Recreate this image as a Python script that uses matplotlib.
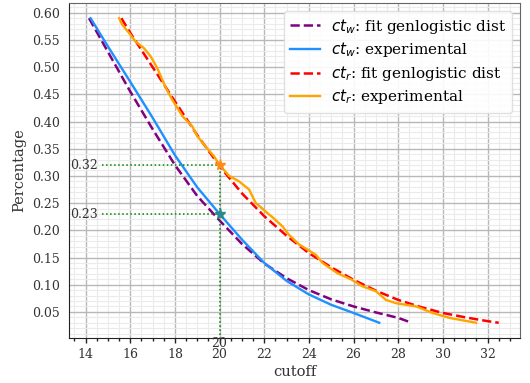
import numpy as np
import matplotlib
matplotlib.use("Agg")
import matplotlib.pyplot as plt
from matplotlib.ticker import AutoMinorLocator

plt.rcParams['font.family'] = 'DejaVu Serif'

# ct_w experimental
w_exp_x = [14.22, 15, 16, 17, 18, 19, 20, 21, 22, 23, 24, 25, 26, 27.15]
w_exp_y = [0.59, 0.538, 0.473, 0.407, 0.338, 0.279, 0.23, 0.183, 0.14, 0.107, 0.082, 0.063, 0.048, 0.03]

# ct_w fit genlogistic
w_fit_x = [14.15, 15, 16, 17, 18, 19, 20, 21, 22, 23, 24, 25, 26, 27, 28, 28.6]
w_fit_y = [0.59, 0.528, 0.455, 0.386, 0.32, 0.263, 0.218, 0.175, 0.139, 0.112, 0.09, 0.073, 0.06, 0.049, 0.039, 0.03]

# ct_r fit genlogistic
r_fit_x = [15.6, 16, 17, 18, 19, 20, 21, 22, 23, 24, 25, 26, 27, 28, 29, 30, 31, 32, 32.5]
r_fit_y = [0.59, 0.563, 0.5, 0.437, 0.375, 0.318, 0.268, 0.226, 0.19, 0.158, 0.132, 0.109, 0.089, 0.072, 0.059, 0.048, 0.04, 0.033, 0.03]

# ct_r experimental
r_exp_x = [15.5, 15.64, 15.94, 16.24, 16.61, 16.91, 17.21, 17.59, 17.88, 18.11, 18.33, 18.78, 19.0,
           19.38, 19.75, 20.0, 20.43, 20.87, 21.32, 21.62, 21.77, 22.22, 22.37, 22.82, 23.1, 23.56,
           24.31, 24.61, 25.28, 25.88, 26.4, 27.0, 27.45, 27.9, 28.8, 29.54, 30.29, 31.49]
r_exp_y = [0.59, 0.578, 0.563, 0.547, 0.535, 0.52, 0.498, 0.462, 0.44, 0.425, 0.41, 0.391, 0.373,
           0.354, 0.336, 0.32, 0.30, 0.29, 0.275, 0.25, 0.245, 0.229, 0.224, 0.207, 0.192, 0.174,
           0.155, 0.14, 0.121, 0.11, 0.097, 0.088, 0.072, 0.066, 0.06, 0.048, 0.039, 0.03]

cut = 20
p_r = 0.32
p_w = 0.23

fig = plt.figure(figsize=(5.3, 3.83), dpi=100)
ax = fig.add_axes([0.130, 0.1175, 0.851, 0.8747])

ax.plot(w_fit_x, w_fit_y, c='purple', ls='--', lw=1.8, label=r'$ct_w$: fit genlogistic dist')
ax.plot(w_exp_x, w_exp_y, c='#1e90ff', lw=1.7, label=r'$ct_w$: experimental')
ax.plot(r_fit_x, r_fit_y, c='red', ls='--', lw=1.8, label=r'$ct_r$: fit genlogistic dist')
ax.plot(r_exp_x, r_exp_y, c='orange', lw=1.7, label=r'$ct_r$: experimental')

ax.plot([14.75, cut], [p_r, p_r], c='green', ls=':', lw=1.1)
ax.plot([14.75, cut], [p_w, p_w], c='green', ls=':', lw=1.1)
ax.plot([cut, cut], [0, p_r], c='green', ls=':', lw=1.1)
ax.plot(cut, p_r, marker='*', c='#ff8c1a', markersize=8)
ax.plot(cut, p_w, marker='*', c='#2a8a8a', markersize=8)
ax.text(13.3, p_r, '%.2f' % p_r, ha='left', va='center', fontsize=9, color='#333333')
ax.text(13.3, p_w, '%.2f' % p_w, ha='left', va='center', fontsize=9, color='#333333')
ax.text(cut, 0.003, str(cut), ha='center', va='top', fontsize=9, color='#333333')

ax.set_xlim(13.25, 33.45)
ax.set_ylim(0.002, 0.618)
ax.set_xticks(np.arange(14, 33, 2))
ax.set_yticks(np.arange(0.05, 0.61, 0.05))
ax.xaxis.set_minor_locator(AutoMinorLocator())
ax.yaxis.set_minor_locator(AutoMinorLocator())
ax.grid(which='major', color='#b8b8b8', lw=1.0)
ax.grid(which='minor', color='#ebebeb', lw=0.8)
ax.set_axisbelow(True)
ax.tick_params(axis='x', which='major', length=3.5, width=1, colors='#222222', labelcolor='#333333', labelsize=9)
ax.tick_params(axis='x', which='minor', length=2, width=1, colors='#222222')
ax.tick_params(axis='y', which='both', length=0, pad=6.5, labelcolor='#333333', labelsize=9)
for s in ['left', 'bottom']:
    ax.spines[s].set_color('#222222')
for s in ['top', 'right']:
    ax.spines[s].set_color('#666666')

ax.set_xlabel('cutoff', fontsize=10.5, color='#333333', labelpad=3)
ax.set_ylabel('Percentage', fontsize=10.5, color='#333333', labelpad=4)
ax.legend(loc='upper right', fontsize=11, framealpha=0.9, edgecolor='#dddddd',
          handlelength=2.0, handletextpad=0.7, labelspacing=0.3, borderaxespad=0.5)

fig.savefig('out.png', dpi=100)
